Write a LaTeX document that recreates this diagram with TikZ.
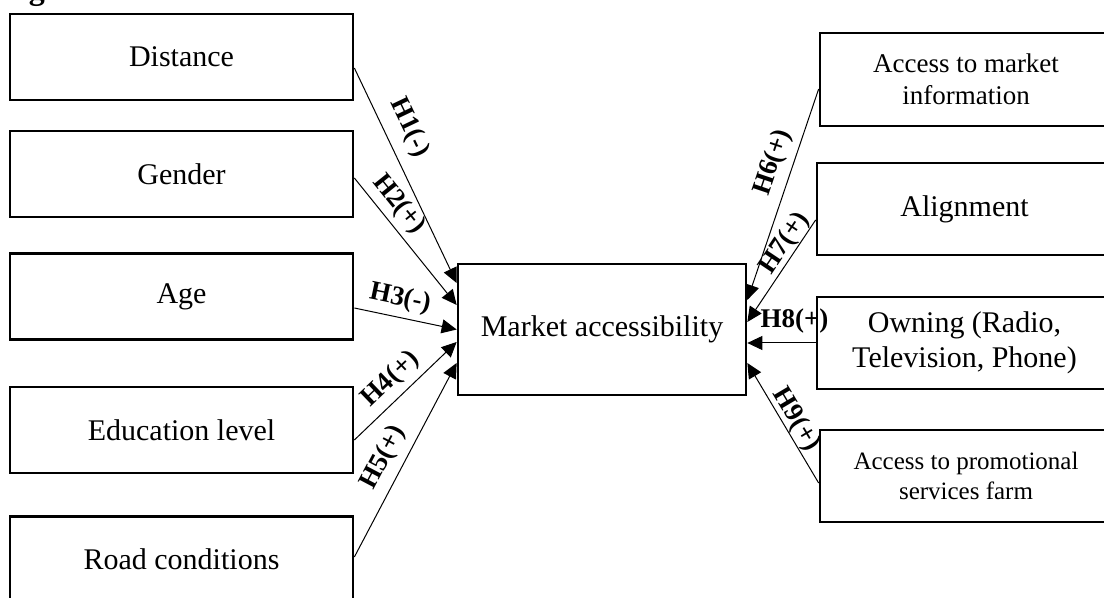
\documentclass[tikz,border=0pt]{standalone}
\usepackage{fontspec}
\setmainfont{Liberation Serif}
\usetikzlibrary{arrows.meta}
\begin{document}
\begin{tikzpicture}[x=0.5pt,y=-0.5pt,
  box/.style={draw, line width=1.35pt, inner sep=2pt, align=center, font=\fontsize{15}{17.5}\selectfont},
  lbox/.style={box, minimum width=171.5pt, minimum height=43pt},
  rbox/.style={box, minimum width=146pt, minimum height=46pt},
  conn/.style={line width=0.5pt, -{Triangle[length=7.5pt,width=7pt]}},
  hyp/.style={sloped, inner sep=0pt, font=\bfseries\fontsize{13.5}{15}\selectfont}]
\useasboundingbox (0,0) rectangle (1104,598);
% caption remnant (only the descender shows)
\node[anchor=base west, inner sep=0pt, font=\bfseries\fontsize{16}{18}\selectfont] (cap) at (0,0) {Figure};
% left boxes
\node[lbox] (dist) at (181.5,57) {Distance};
\node[lbox] (gen)  at (181.5,174) {Gender};
\node[lbox] (age)  at (181.5,296.5) {Age};
\node[lbox] (edu)  at (181.5,430) {Education level};
\node[lbox] (road) at (181.5,559.5) {Road conditions};
% centre
\node[box, minimum width=144pt, minimum height=65.5pt] (main) at (602,329.5) {Market accessibility};
% right boxes
\node[rbox, minimum height=46.5pt, font=\fontsize{13.5}{16}\selectfont] (info) at (966,79.5) {Access to market\\information};
\node[rbox, minimum width=147.5pt] (align) at (964.5,209) {Alignment};
\node[rbox, minimum width=147.5pt] (own) at (964.5,343) {Owning (Radio,\\Television, Phone)};
\node[rbox, font=\fontsize{12.5}{15}\selectfont] (promo) at (966,476) {Access to promotional\\services farm};
% left connectors
\draw[conn] ([yshift=-5.5pt]dist.east) -- node[hyp, pos=0.326, above=5.6pt] (l1) {H1(-)} ([yshift=23.25pt]main.west);
\draw[conn] ([yshift=-2pt]gen.east) -- node[hyp, pos=0.296, above=2.5pt] (l2) {H2(+)} ([yshift=12.25pt]main.west);
\draw[conn] ([yshift=-5.75pt]age.east) -- node[hyp, pos=0.41, above=2.9pt] (l3) {H3(-)} ([yshift=0pt]main.west);
\draw[conn] ([yshift=-5pt]edu.east) -- node[hyp, pos=0.48, above=2.9pt] (l4) {H4(+)} ([yshift=-6.25pt]main.west);
\draw[conn] ([yshift=1.25pt]road.east) -- node[hyp, pos=0.463, above=3.9pt] (l5) {H5(+)} ([yshift=-16.75pt]main.west);
% right connectors
\draw[conn] ([yshift=-4.75pt]info.west) -- node[hyp, pos=0.379, above=3.5pt] (l6) {H6(+)} ([yshift=14.75pt]main.east);
\draw[conn] ([yshift=-5.5pt]align.west) -- node[hyp, pos=0.297, above=0pt] (l7) {H7(+)} ([yshift=3.75pt]main.east);
\draw[conn] (own.west) -- node[hyp, pos=0.31, above=4.6pt] (l8) {H8(+)} (own.west -| main.east);
\draw[conn] ([yshift=-3.5pt]promo.west) -- node[hyp, pos=0.473, above=0pt] (l9) {H9(+)} ([yshift=-16.75pt]main.east);
\end{tikzpicture}
\end{document}
